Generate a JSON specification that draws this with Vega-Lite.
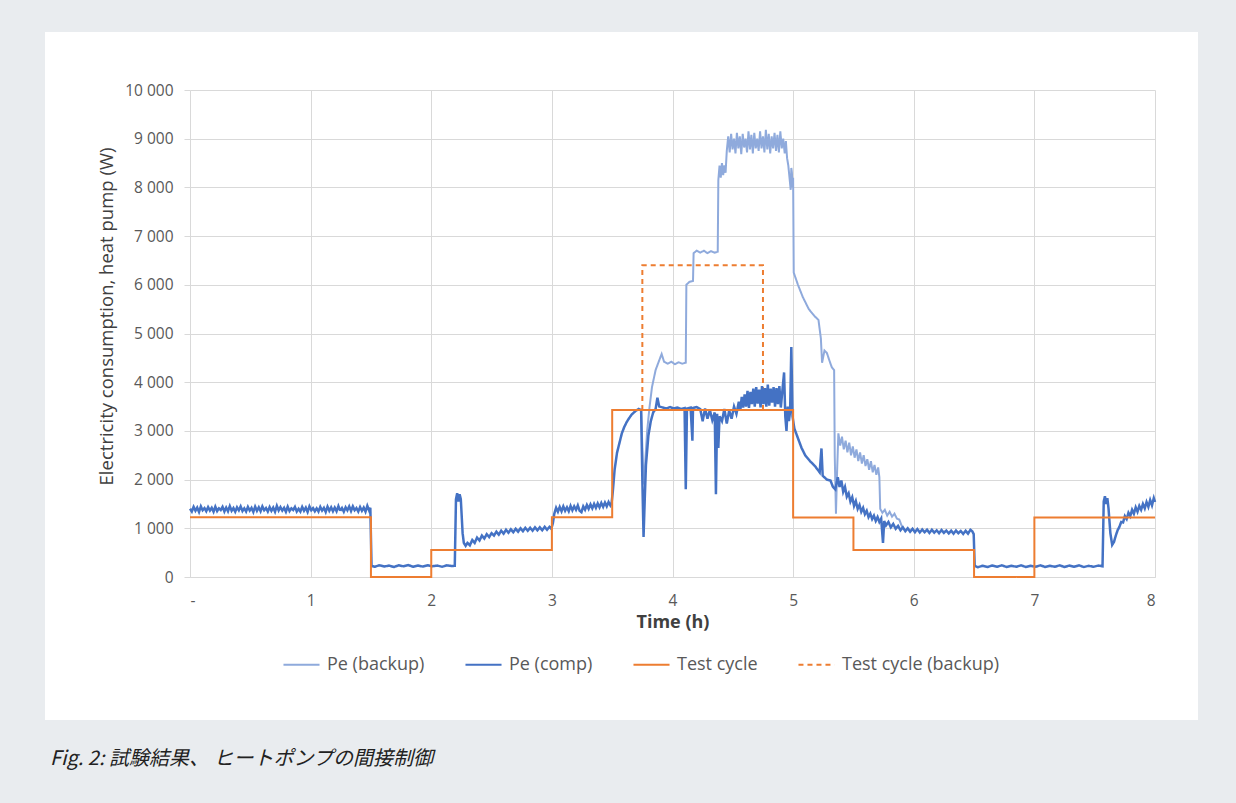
{
  "$schema": "https://vega.github.io/schema/vega-lite/v6.json",
  "width": 1153,
  "height": 688,
  "autosize": {"type": "none"},
  "padding": {"left": 45, "top": 32, "right": 38, "bottom": 83},
  "background": "#e9ecef",
  "title": {
    "text": "Fig. 2:  試験結果、 ヒートポンプの間接制御",
    "orient": "bottom",
    "anchor": "start",
    "frame": "group",
    "dx": 5,
    "offset": 29,
    "font": "Noto Sans CJK JP",
    "fontStyle": "italic",
    "fontWeight": "normal",
    "fontSize": 20,
    "color": "#222222"
  },
  "config": {
    "view": {"stroke": null, "fill": "#ffffff"},
    "font": "Open Sans",
    "axis": {
      "labelFont": "Open Sans",
      "labelFontSize": 15.5,
      "labelColor": "#595959",
      "titleFont": "Open Sans",
      "gridColor": "#d9d9d9",
      "gridWidth": 1
    },
    "legend": {
      "labelFont": "Open Sans",
      "labelFontSize": 18,
      "labelColor": "#595959"
    }
  },
  "resolve": {"axis": {"x": "independent"}},
  "datasets": {
    "comp": [
      {"t":0.000,"v":1400},{"t":0.015,"v":1345},{"t":0.030,"v":1440},{"t":0.045,"v":1360},{"t":0.060,"v":1425},{"t":0.075,"v":1335},{"t":0.090,"v":1450},{"t":0.105,"v":1370},{"t":0.120,"v":1415},{"t":0.135,"v":1350},
      {"t":0.150,"v":1435},{"t":0.165,"v":1365},{"t":0.180,"v":1420},{"t":0.195,"v":1340},{"t":0.210,"v":1445},{"t":0.225,"v":1355},{"t":0.240,"v":1410},{"t":0.255,"v":1375},{"t":0.270,"v":1440},{"t":0.285,"v":1345},
      {"t":0.300,"v":1425},{"t":0.315,"v":1350},{"t":0.330,"v":1455},{"t":0.345,"v":1360},{"t":0.360,"v":1415},{"t":0.375,"v":1340},{"t":0.390,"v":1430},{"t":0.405,"v":1370},{"t":0.420,"v":1450},{"t":0.435,"v":1355},
      {"t":0.450,"v":1410},{"t":0.465,"v":1345},{"t":0.480,"v":1440},{"t":0.495,"v":1365},{"t":0.510,"v":1420},{"t":0.525,"v":1335},{"t":0.540,"v":1445},{"t":0.555,"v":1360},{"t":0.570,"v":1430},{"t":0.585,"v":1350},
      {"t":0.600,"v":1450},{"t":0.615,"v":1370},{"t":0.630,"v":1415},{"t":0.645,"v":1345},{"t":0.660,"v":1435},{"t":0.675,"v":1360},{"t":0.690,"v":1425},{"t":0.705,"v":1340},{"t":0.720,"v":1460},{"t":0.735,"v":1365},
      {"t":0.750,"v":1435},{"t":0.765,"v":1365},{"t":0.780,"v":1420},{"t":0.795,"v":1340},{"t":0.810,"v":1445},{"t":0.825,"v":1355},{"t":0.840,"v":1410},{"t":0.855,"v":1375},{"t":0.870,"v":1440},{"t":0.885,"v":1345},
      {"t":0.900,"v":1400},{"t":0.915,"v":1345},{"t":0.930,"v":1440},{"t":0.945,"v":1360},{"t":0.960,"v":1425},{"t":0.975,"v":1335},{"t":0.990,"v":1450},{"t":1.005,"v":1370},{"t":1.020,"v":1415},{"t":1.035,"v":1350},
      {"t":1.050,"v":1410},{"t":1.065,"v":1345},{"t":1.080,"v":1440},{"t":1.095,"v":1365},{"t":1.110,"v":1420},{"t":1.125,"v":1335},{"t":1.140,"v":1445},{"t":1.155,"v":1360},{"t":1.170,"v":1430},{"t":1.185,"v":1350},
      {"t":1.200,"v":1425},{"t":1.215,"v":1350},{"t":1.230,"v":1455},{"t":1.245,"v":1360},{"t":1.260,"v":1415},{"t":1.275,"v":1340},{"t":1.290,"v":1430},{"t":1.305,"v":1370},{"t":1.320,"v":1450},{"t":1.335,"v":1355},
      {"t":1.350,"v":1450},{"t":1.365,"v":1370},{"t":1.380,"v":1415},{"t":1.395,"v":1345},{"t":1.410,"v":1435},{"t":1.425,"v":1360},{"t":1.440,"v":1425},{"t":1.455,"v":1340},{"t":1.470,"v":1460},{"t":1.485,"v":1365},
      {"t":1.495,"v":1420},{"t":1.505,"v":230},{"t":1.53,"v":210},{"t":1.57,"v":240},{"t":1.61,"v":215},{"t":1.65,"v":235},{"t":1.69,"v":205},{"t":1.73,"v":240},{"t":1.77,"v":220},{"t":1.81,"v":245},
      {"t":1.85,"v":210},{"t":1.89,"v":235},{"t":1.93,"v":215},{"t":1.97,"v":240},{"t":2.01,"v":220},{"t":2.05,"v":235},{"t":2.09,"v":210},{"t":2.13,"v":240},{"t":2.17,"v":225},{"t":2.195,"v":230},
      {"t":2.205,"v":1600},{"t":2.215,"v":1720},{"t":2.225,"v":1550},{"t":2.235,"v":1700},{"t":2.245,"v":1600},{"t":2.26,"v":900},{"t":2.27,"v":700},{"t":2.285,"v":640},
      {"t":2.30,"v":700},{"t":2.32,"v":650},{"t":2.34,"v":760},{"t":2.36,"v":700},{"t":2.38,"v":810},{"t":2.40,"v":750},{"t":2.42,"v":850},{"t":2.44,"v":790},{"t":2.46,"v":880},{"t":2.48,"v":820},
      {"t":2.50,"v":900},{"t":2.52,"v":850},{"t":2.54,"v":930},{"t":2.56,"v":870},{"t":2.58,"v":950},{"t":2.60,"v":890},{"t":2.62,"v":970},{"t":2.64,"v":910},{"t":2.66,"v":980},{"t":2.68,"v":920},
      {"t":2.70,"v":990},{"t":2.72,"v":930},{"t":2.74,"v":1000},{"t":2.76,"v":940},{"t":2.78,"v":1010},{"t":2.80,"v":950},{"t":2.82,"v":1010},{"t":2.84,"v":950},{"t":2.86,"v":1020},{"t":2.88,"v":960},
      {"t":2.90,"v":1020},{"t":2.92,"v":960},{"t":2.94,"v":1030},{"t":2.96,"v":970},{"t":2.98,"v":1030},{"t":2.995,"v":990},{"t":3.008,"v":1100},
      {"t":3.020,"v":1300},{"t":3.035,"v":1420},{"t":3.050,"v":1340},{"t":3.065,"v":1440},{"t":3.080,"v":1350},{"t":3.095,"v":1450},{"t":3.110,"v":1360},{"t":3.125,"v":1430},{"t":3.140,"v":1350},{"t":3.155,"v":1460},
      {"t":3.170,"v":1370},{"t":3.185,"v":1450},{"t":3.200,"v":1380},{"t":3.215,"v":1470},{"t":3.230,"v":1360},{"t":3.245,"v":1330},{"t":3.260,"v":1450},{"t":3.275,"v":1380},{"t":3.290,"v":1480},{"t":3.305,"v":1400},
      {"t":3.320,"v":1490},{"t":3.335,"v":1410},{"t":3.350,"v":1500},{"t":3.365,"v":1420},{"t":3.380,"v":1510},{"t":3.395,"v":1430},{"t":3.410,"v":1520},{"t":3.425,"v":1440},{"t":3.440,"v":1530},{"t":3.455,"v":1450},
      {"t":3.470,"v":1540},{"t":3.485,"v":1470},{"t":3.495,"v":1520},
      {"t":3.505,"v":1750},{"t":3.52,"v":2200},{"t":3.54,"v":2550},{"t":3.56,"v":2750},{"t":3.58,"v":2950},{"t":3.60,"v":3080},
      {"t":3.62,"v":3180},{"t":3.64,"v":3260},{"t":3.66,"v":3330},{"t":3.68,"v":3380},{"t":3.70,"v":3420},{"t":3.72,"v":3450},{"t":3.74,"v":3430},{"t":3.75,"v":2000},{"t":3.76,"v":820},{"t":3.77,"v":1600},
      {"t":3.78,"v":2300},{"t":3.80,"v":2900},{"t":3.82,"v":3200},{"t":3.84,"v":3380},{"t":3.86,"v":3450},{"t":3.875,"v":3680},{"t":3.89,"v":3500},{"t":3.92,"v":3480},{"t":3.95,"v":3460},{"t":3.98,"v":3490},
      {"t":4.01,"v":3460},{"t":4.04,"v":3480},{"t":4.07,"v":3450},{"t":4.10,"v":3470},{"t":4.11,"v":1800},{"t":4.12,"v":3460},{"t":4.15,"v":3480},{"t":4.165,"v":2800},{"t":4.17,"v":3470},{"t":4.20,"v":3490},
      {"t":4.23,"v":3450},{"t":4.25,"v":3200},{"t":4.27,"v":3460},{"t":4.29,"v":3250},{"t":4.31,"v":3430},{"t":4.33,"v":3220},{"t":4.35,"v":3380},{"t":4.36,"v":1700},{"t":4.37,"v":3350},{"t":4.38,"v":2650},
      {"t":4.39,"v":3300},{"t":4.41,"v":3200},{"t":4.43,"v":3450},{"t":4.45,"v":3150},{"t":4.47,"v":3420},{"t":4.49,"v":3250},{"t":4.51,"v":3500},{"t":4.53,"v":3350},
      {"t":4.550,"v":3600},{"t":4.562,"v":3420},{"t":4.574,"v":3700},{"t":4.586,"v":3480},{"t":4.598,"v":3750},{"t":4.610,"v":3500},{"t":4.622,"v":3820},{"t":4.634,"v":3470},{"t":4.646,"v":3800},{"t":4.658,"v":3550},
      {"t":4.670,"v":3870},{"t":4.682,"v":3500},{"t":4.694,"v":3900},{"t":4.706,"v":3560},{"t":4.718,"v":3850},{"t":4.730,"v":3480},{"t":4.742,"v":3920},{"t":4.754,"v":3550},{"t":4.766,"v":3880},{"t":4.778,"v":3500},
      {"t":4.790,"v":3950},{"t":4.802,"v":3520},{"t":4.814,"v":3870},{"t":4.826,"v":3580},{"t":4.838,"v":3900},{"t":4.850,"v":3500},{"t":4.862,"v":3880},{"t":4.874,"v":3550},{"t":4.886,"v":3920},{"t":4.898,"v":3480},
      {"t":4.910,"v":3800},{"t":4.925,"v":4200},{"t":4.935,"v":3300},{"t":4.945,"v":3000},
      {"t":4.955,"v":3500},{"t":4.965,"v":3200},{"t":4.975,"v":3400},{"t":4.985,"v":4720},{"t":4.995,"v":3300},{"t":5.01,"v":3050},{"t":5.04,"v":2850},{"t":5.07,"v":2650},{"t":5.10,"v":2500},{"t":5.14,"v":2380},
      {"t":5.18,"v":2280},{"t":5.22,"v":2150},{"t":5.235,"v":2640},{"t":5.245,"v":2080},{"t":5.28,"v":2000},{"t":5.31,"v":1980},{"t":5.33,"v":1850},{"t":5.35,"v":1800},{"t":5.37,"v":2050},{"t":5.385,"v":1850},
      {"t":5.40,"v":1980},{"t":5.415,"v":1750},{"t":5.43,"v":1850},{"t":5.445,"v":1650},{"t":5.46,"v":1720},{"t":5.475,"v":1550},{"t":5.49,"v":1640},{"t":5.505,"v":1460},{"t":5.52,"v":1560},{"t":5.535,"v":1400},
      {"t":5.55,"v":1480},{"t":5.565,"v":1340},{"t":5.58,"v":1420},{"t":5.595,"v":1290},{"t":5.61,"v":1360},{"t":5.625,"v":1230},{"t":5.64,"v":1300},{"t":5.655,"v":1190},{"t":5.67,"v":1260},{"t":5.685,"v":1150},
      {"t":5.70,"v":1230},{"t":5.715,"v":1130},{"t":5.73,"v":1200},{"t":5.745,"v":700},{"t":5.755,"v":1150},{"t":5.77,"v":1060},{"t":5.79,"v":1130},{"t":5.81,"v":1020},{"t":5.83,"v":1090},{"t":5.85,"v":990},
      {"t":5.87,"v":1050},{"t":5.89,"v":960},{"t":5.91,"v":1020},{"t":5.93,"v":940},{"t":5.95,"v":1000},{"t":5.97,"v":930},{"t":5.99,"v":990},{"t":6.01,"v":920},{"t":6.03,"v":985},{"t":6.05,"v":915},
      {"t":6.07,"v":975},{"t":6.09,"v":920},{"t":6.11,"v":970},{"t":6.13,"v":905},{"t":6.15,"v":970},{"t":6.17,"v":910},{"t":6.19,"v":960},{"t":6.21,"v":900},{"t":6.23,"v":965},{"t":6.25,"v":905},
      {"t":6.27,"v":955},{"t":6.29,"v":895},{"t":6.31,"v":950},{"t":6.33,"v":890},{"t":6.35,"v":955},{"t":6.37,"v":900},{"t":6.39,"v":945},{"t":6.41,"v":885},{"t":6.43,"v":950},{"t":6.45,"v":890},
      {"t":6.47,"v":970},{"t":6.485,"v":940},{"t":6.497,"v":880},{"t":6.505,"v":230},{"t":6.53,"v":200},{"t":6.57,"v":230},{"t":6.61,"v":205},{"t":6.65,"v":235},{"t":6.69,"v":210},
      {"t":6.73,"v":240},{"t":6.77,"v":205},{"t":6.81,"v":230},{"t":6.85,"v":210},{"t":6.89,"v":240},{"t":6.93,"v":205},{"t":6.97,"v":230},{"t":7.01,"v":210},{"t":7.05,"v":240},{"t":7.09,"v":205},
      {"t":7.13,"v":230},{"t":7.17,"v":210},{"t":7.21,"v":240},{"t":7.25,"v":205},{"t":7.29,"v":235},{"t":7.33,"v":210},{"t":7.37,"v":240},{"t":7.41,"v":205},{"t":7.45,"v":230},{"t":7.49,"v":210},
      {"t":7.53,"v":235},{"t":7.565,"v":220},{"t":7.575,"v":1550},{"t":7.585,"v":1660},{"t":7.595,"v":1500},{"t":7.605,"v":1620},{"t":7.615,"v":1400},{"t":7.63,"v":900},{"t":7.645,"v":660},{"t":7.66,"v":720},
      {"t":7.675,"v":850},{"t":7.69,"v":960},{"t":7.705,"v":1030},{"t":7.72,"v":1130},{"t":7.735,"v":1120},{"t":7.75,"v":1250},{"t":7.765,"v":1190},{"t":7.78,"v":1320},{"t":7.795,"v":1250},{"t":7.81,"v":1380},
      {"t":7.825,"v":1300},{"t":7.84,"v":1430},{"t":7.855,"v":1340},{"t":7.87,"v":1460},{"t":7.885,"v":1380},{"t":7.90,"v":1500},{"t":7.915,"v":1410},{"t":7.93,"v":1540},{"t":7.945,"v":1440},{"t":7.96,"v":1580},
      {"t":7.975,"v":1470},{"t":7.99,"v":1620},{"t":8.00,"v":1540}
    ],
    "backup": [
      {"t":3.74,"v":3430},{"t":3.755,"v":2300},{"t":3.765,"v":1900},{"t":3.775,"v":2400},{"t":3.79,"v":3000},{"t":3.81,"v":3500},{"t":3.83,"v":3900},{"t":3.86,"v":4250},{"t":3.89,"v":4450},{"t":3.91,"v":4580},
      {"t":3.93,"v":4420},{"t":3.96,"v":4380},{"t":3.99,"v":4420},{"t":4.02,"v":4370},{"t":4.05,"v":4410},{"t":4.08,"v":4380},{"t":4.11,"v":4400},{"t":4.115,"v":6000},{"t":4.14,"v":6060},{"t":4.17,"v":6080},
      {"t":4.175,"v":6650},{"t":4.20,"v":6700},{"t":4.23,"v":6660},{"t":4.26,"v":6700},{"t":4.29,"v":6650},{"t":4.32,"v":6690},{"t":4.35,"v":6660},{"t":4.375,"v":6680},{"t":4.38,"v":8150},{"t":4.39,"v":8450},
      {"t":4.40,"v":8200},{"t":4.41,"v":8500},{"t":4.42,"v":8250},{"t":4.43,"v":8450},{"t":4.44,"v":8300},
      {"t":4.450,"v":8750},{"t":4.462,"v":9050},{"t":4.474,"v":8720},{"t":4.486,"v":9100},{"t":4.498,"v":8780},{"t":4.510,"v":9000},{"t":4.522,"v":8700},{"t":4.534,"v":9120},{"t":4.546,"v":8800},{"t":4.558,"v":9050},
      {"t":4.570,"v":8680},{"t":4.582,"v":9100},{"t":4.594,"v":8820},{"t":4.606,"v":9000},{"t":4.618,"v":8720},{"t":4.630,"v":9150},{"t":4.642,"v":8780},{"t":4.654,"v":9080},{"t":4.666,"v":8700},{"t":4.678,"v":9120},
      {"t":4.690,"v":8800},{"t":4.702,"v":9000},{"t":4.714,"v":8750},{"t":4.726,"v":9150},{"t":4.738,"v":8800},{"t":4.750,"v":9050},{"t":4.762,"v":8720},{"t":4.774,"v":9180},{"t":4.786,"v":8780},{"t":4.798,"v":9100},
      {"t":4.810,"v":8700},{"t":4.822,"v":9050},{"t":4.834,"v":8800},{"t":4.846,"v":9120},{"t":4.858,"v":8750},{"t":4.870,"v":9080},{"t":4.882,"v":8720},{"t":4.894,"v":9150},{"t":4.906,"v":8800},{"t":4.918,"v":9000},
      {"t":4.93,"v":8700},{"t":4.94,"v":8950},{"t":4.95,"v":8600},{"t":4.96,"v":8450},{"t":4.97,"v":8200},{"t":4.98,"v":7950},{"t":4.985,"v":8400},{"t":4.99,"v":8300},{"t":4.995,"v":8000},{"t":5.00,"v":8200},
      {"t":5.005,"v":6250},{"t":5.04,"v":6000},{"t":5.08,"v":5750},{"t":5.13,"v":5500},{"t":5.18,"v":5350},{"t":5.21,"v":5280},{"t":5.23,"v":4900},{"t":5.24,"v":4400},{"t":5.26,"v":4650},{"t":5.28,"v":4600},
      {"t":5.30,"v":4450},{"t":5.32,"v":4310},{"t":5.34,"v":4250},{"t":5.345,"v":2500},{"t":5.355,"v":1300},{"t":5.365,"v":2200},
      {"t":5.375,"v":2950},{"t":5.39,"v":2700},{"t":5.405,"v":2880},{"t":5.42,"v":2620},{"t":5.435,"v":2800},{"t":5.45,"v":2560},{"t":5.465,"v":2760},{"t":5.48,"v":2500},{"t":5.495,"v":2680},{"t":5.51,"v":2450},
      {"t":5.525,"v":2620},{"t":5.54,"v":2380},{"t":5.555,"v":2560},{"t":5.57,"v":2330},{"t":5.585,"v":2500},{"t":5.60,"v":2280},{"t":5.615,"v":2420},{"t":5.63,"v":2200},{"t":5.645,"v":2380},{"t":5.66,"v":2150},
      {"t":5.675,"v":2300},{"t":5.69,"v":2100},{"t":5.705,"v":2250},{"t":5.715,"v":2050},{"t":5.722,"v":1400},{"t":5.74,"v":1320},{"t":5.76,"v":1380},{"t":5.78,"v":1260},{"t":5.80,"v":1340},{"t":5.82,"v":1240},
      {"t":5.84,"v":1300},{"t":5.86,"v":1200},{"t":5.88,"v":1180},{"t":5.90,"v":1050},{"t":5.92,"v":980}
    ],
    "cycle": [
      {"o":1,"t":0,"v":1225},{"o":2,"t":1.5,"v":1225},{"o":3,"t":1.5,"v":0},{"o":4,"t":2,"v":0},{"o":5,"t":2,"v":555},{"o":6,"t":3,"v":555},
      {"o":7,"t":3,"v":1225},{"o":8,"t":3.5,"v":1225},{"o":9,"t":3.5,"v":3430},{"o":10,"t":5,"v":3430},{"o":11,"t":5,"v":1220},{"o":12,"t":5.5,"v":1220},
      {"o":13,"t":5.5,"v":555},{"o":14,"t":6.5,"v":555},{"o":15,"t":6.5,"v":0},{"o":16,"t":7,"v":0},{"o":17,"t":7,"v":1220},{"o":18,"t":8,"v":1220}
    ],
    "cycleb": [
      {"o":1,"t":3.75,"v":3430},{"o":2,"t":3.75,"v":6400},{"o":3,"t":4.75,"v":6400},{"o":4,"t":4.75,"v":3430}
    ]
  },
  "encoding": {
    "y": {
      "field": "v",
      "type": "quantitative",
      "scale": {"domain": [0, 10000], "range": [545, 58], "nice": false},
      "axis": {
        "title": "Electricity consumption, heat pump (W)",
        "offset": -145,
        "values": [0, 1000, 2000, 3000, 4000, 5000, 6000, 7000, 8000, 9000, 10000],
        "labelExpr": "replace(format(datum.value, ','), ',', ' ')",
        "grid": true,
        "domain": false,
        "ticks": true,
        "tickColor": "#d9d9d9",
        "tickSize": 6,
        "labelPadding": 11,
        "titleFontSize": 18.5,
        "titleFontWeight": "normal",
        "titleColor": "#404040",
        "titlePadding": 8,
        "titleY": 284
      }
    },
    "color": {
      "field": "s",
      "type": "nominal",
      "scale": {
        "domain": ["Pe (backup)", "Pe (comp)", "Test cycle", "Test cycle (backup)"],
        "range": ["#8faadc", "#4472c4", "#ed7d31", "#ed7d31"]
      },
      "legend": {
        "title": null,
        "orient": "none",
        "legendX": 237,
        "legendY": 613,
        "direction": "horizontal",
        "symbolType": "stroke",
        "symbolSize": 1300,
        "symbolStrokeWidth": 2,
        "columnPadding": 36,
        "labelOffset": 6
      }
    },
    "strokeDash": {
      "field": "s",
      "type": "nominal",
      "scale": {
        "domain": ["Pe (backup)", "Pe (comp)", "Test cycle", "Test cycle (backup)"],
        "range": [[1, 0], [1, 0], [1, 0], [5, 4]]
      },
      "legend": {
        "title": null,
        "orient": "none",
        "legendX": 237,
        "legendY": 613,
        "direction": "horizontal",
        "symbolType": "stroke",
        "symbolSize": 1300,
        "symbolStrokeWidth": 2,
        "columnPadding": 36,
        "labelOffset": 6
      }
    }
  },
  "layer": [
    {
      "data": {"name": "cycleb"},
      "transform": [{"calculate": "'Test cycle (backup)'", "as": "s"}],
      "mark": {"type": "line", "strokeWidth": 2},
      "encoding": {
        "x": {
          "field": "t",
          "type": "quantitative",
          "scale": {"domain": [0, 8], "range": [145, 1110], "nice": false, "zero": false},
          "axis": {
            "orient": "top",
            "title": null,
            "values": [0, 1, 2, 3, 4, 5, 6, 7, 8],
            "grid": true,
            "labels": false,
            "ticks": false,
            "domain": false
          }
        },
        "order": {"field": "o"}
      }
    },
    {
      "data": {"name": "backup"},
      "transform": [{"calculate": "'Pe (backup)'", "as": "s"}],
      "mark": {"type": "line", "strokeWidth": 2},
      "encoding": {
        "x": {
          "field": "t",
          "type": "quantitative",
          "axis": {
            "orient": "bottom",
            "title": "Time (h)",
            "offset": -143,
            "values": [0, 1, 2, 3, 4, 5, 6, 7, 8],
            "labelExpr": "datum.value == 0 ? '-' : datum.label",
            "grid": false,
            "ticks": false,
            "domainColor": "#d9d9d9",
            "labelPadding": 16,
            "titleFontSize": 18,
            "titleFontWeight": "bold",
            "titleColor": "#404040",
            "titlePadding": 5
          }
        }
      }
    },
    {
      "data": {"name": "comp"},
      "transform": [{"calculate": "'Pe (comp)'", "as": "s"}],
      "mark": {"type": "line", "strokeWidth": 2.5},
      "encoding": {"x": {"field": "t", "type": "quantitative", "axis": null}}
    },
    {
      "data": {"name": "cycle"},
      "transform": [{"calculate": "'Test cycle'", "as": "s"}],
      "mark": {"type": "line", "strokeWidth": 2},
      "encoding": {
        "x": {"field": "t", "type": "quantitative", "axis": null},
        "order": {"field": "o"}
      }
    }
  ]
}
